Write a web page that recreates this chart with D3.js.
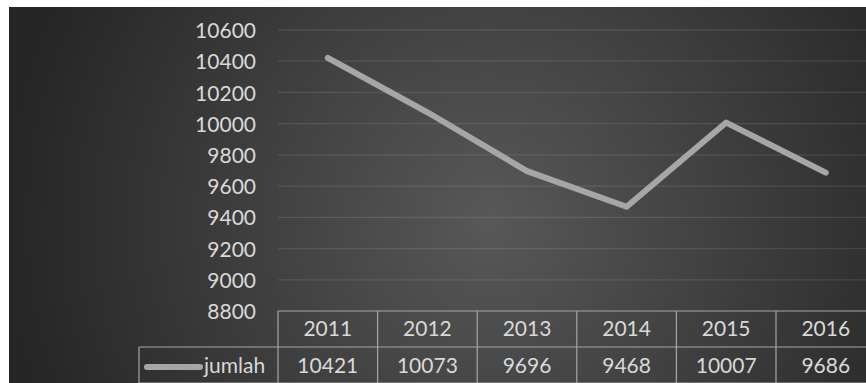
<!DOCTYPE html>
<html><head><meta charset="utf-8">
<script src="https://cdn.jsdelivr.net/npm/d3@7"></script>
<style>html,body{margin:0;padding:0;background:#fff;overflow:hidden}svg{display:block}</style>
</head><body>
<svg id="c" width="866" height="383"></svg>
<script>
const years = ["2011","2012","2013","2014","2015","2016"];
const jumlah = [10421, 10073, 9696, 9468, 10007, 9686];
const yTicks = [8800, 9000, 9200, 9400, 9600, 9800, 10000, 10200, 10400, 10600];
const seriesName = "jumlah";

const svg = d3.select("#c");
const W = 866, H = 383;
const bgX = 9, bgY = 7;
const plotLeft = 278, colW = 99.6;
const plotTop = 30, plotBottom = 311;
const rowH = 36;
const font = "Lato, 'Open Sans', sans-serif";
const fs = 21;
const textCol = "#d9d9d9";

const defs = svg.append("defs");
const grad = defs.append("radialGradient").attr("id","bg")
  .attr("gradientUnits","userSpaceOnUse").attr("cx",490).attr("cy",220).attr("r",480);
grad.append("stop").attr("offset","0").attr("stop-color","#585858");
grad.append("stop").attr("offset","1").attr("stop-color","#262626");
svg.append("rect").attr("x",bgX).attr("y",bgY).attr("width",W-bgX).attr("height",H-bgY).attr("fill","url(#bg)");

const x = d3.scaleBand().domain(years).range([plotLeft, plotLeft + colW*years.length]);
const y = d3.scaleLinear().domain([8800, 10600]).range([plotBottom, plotTop]);

// gridlines
svg.append("g").selectAll("line").data(yTicks.filter(t => t > 8800)).join("line")
  .attr("x1", plotLeft).attr("x2", W).attr("y1", d => y(d)).attr("y2", d => y(d))
  .attr("stroke", "rgba(255,255,255,0.1)").attr("stroke-width", 1.3);

// y axis labels
const yAxis = d3.axisLeft(y).tickValues(yTicks).tickSize(0).tickPadding(0).tickFormat(d3.format("d"));
const ga = svg.append("g").attr("transform", `translate(256,0)`).call(yAxis);
ga.select(".domain").remove();
ga.selectAll("text").attr("fill", textCol).attr("font-family", font).attr("font-size", fs).attr("dy","0.36em");

// line
const line = d3.line().x((d,i) => x(years[i]) + x.bandwidth()/2).y(d => y(d));
svg.append("path").datum(jumlah).attr("d", line).attr("fill","none")
  .attr("stroke","#a6a6a6").attr("stroke-width",6).attr("stroke-linejoin","round").attr("stroke-linecap","round");

// table
const tb = svg.append("g").attr("stroke","#a6a6a6").attr("stroke-width",1.2).attr("fill","none");
const plotRight = plotLeft + colW*years.length;
tb.append("line").attr("x1",plotLeft).attr("x2",plotRight).attr("y1",plotBottom).attr("y2",plotBottom);
tb.append("line").attr("x1",139).attr("x2",plotRight).attr("y1",plotBottom+rowH).attr("y2",plotBottom+rowH);
tb.append("line").attr("x1",139).attr("x2",plotRight).attr("y1",plotBottom+2*rowH).attr("y2",plotBottom+2*rowH);
tb.append("line").attr("x1",139).attr("x2",139).attr("y1",plotBottom+rowH).attr("y2",H);
tb.selectAll(".v").data(years.concat(["end"])).join("line")
  .attr("x1",(d,i)=>plotLeft+i*colW).attr("x2",(d,i)=>plotLeft+i*colW).attr("y1",plotBottom).attr("y2",H);

svg.append("g").selectAll("text").data(years).join("text")
  .attr("x", d => x(d)+x.bandwidth()/2).attr("y", plotBottom+25)
  .attr("text-anchor","middle").attr("fill",textCol).attr("font-family",font).attr("font-size",fs).text(d=>d);
svg.append("g").selectAll("text").data(jumlah).join("text")
  .attr("x", (d,i) => x(years[i])+x.bandwidth()/2).attr("y", plotBottom+rowH+26)
  .attr("text-anchor","middle").attr("fill",textCol).attr("font-family",font).attr("font-size",fs).text(d=>d);

// legend key
svg.append("line").attr("x1",147).attr("x2",200).attr("y1",plotBottom+rowH+20).attr("y2",plotBottom+rowH+20)
  .attr("stroke","#a6a6a6").attr("stroke-width",6).attr("stroke-linecap","round");
svg.append("text").attr("x",204).attr("y",plotBottom+rowH+26).attr("fill",textCol)
  .attr("font-family",font).attr("font-size",fs).text(seriesName);
</script>
</body></html>
